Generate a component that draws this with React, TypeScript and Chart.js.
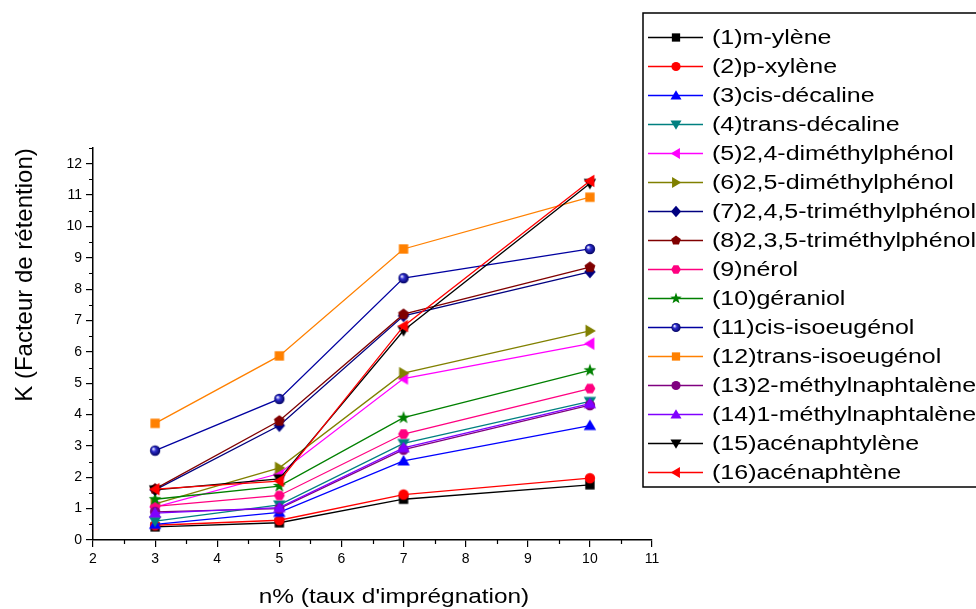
import React, { useEffect, useRef } from 'react';
import { Chart, registerables } from 'chart.js';

Chart.register(...registerables);

// ---------- DATA ----------
const impregnation = [3, 5, 7, 10];

const seriesNames = [
  '(1)m-ylène',
  '(2)p-xylène',
  '(3)cis-décaline',
  '(4)trans-décaline',
  '(5)2,4-diméthylphénol',
  '(6)2,5-diméthylphénol',
  '(7)2,4,5-triméthylphénol',
  '(8)2,3,5-triméthylphénol',
  '(9)nérol',
  '(10)géraniol',
  '(11)cis-isoeugénol',
  '(12)trans-isoeugénol',
  '(13)2-méthylnaphtalène',
  '(14)1-méthylnaphtalène',
  '(15)acénaphtylène',
  '(16)acénaphtène',
];

const mYlene = [0.42, 0.55, 1.3, 1.76];
const pXylene = [0.47, 0.63, 1.45, 1.97];
const cisDecaline = [0.5, 0.88, 2.52, 3.65];
const transDecaline = [0.6, 1.12, 3.08, 4.42];
const dmp24 = [1.05, 2.12, 5.15, 6.26];
const dmp25 = [1.15, 2.3, 5.32, 6.67];
const tmp245 = [1.6, 3.65, 7.15, 8.55];
const tmp235 = [1.63, 3.8, 7.2, 8.7];
const nerol = [1.07, 1.42, 3.38, 4.83];
const geraniol = [1.3, 1.72, 3.9, 5.41];
const cisIsoeugenol = [2.85, 4.5, 8.35, 9.28];
const transIsoeugenol = [3.72, 5.87, 9.28, 10.93];
const methylnaph2 = [0.9, 1.0, 2.88, 4.3];
const methylnaph1 = [0.86, 1.03, 2.94, 4.35];
const acenaphtylene = [1.6, 1.95, 6.68, 11.37];
const acenaphtene = [1.62, 1.88, 6.82, 11.45];

const seriesValues = [
  mYlene, pXylene, cisDecaline, transDecaline, dmp24, dmp25, tmp245, tmp235,
  nerol, geraniol, cisIsoeugenol, transIsoeugenol, methylnaph2, methylnaph1,
  acenaphtylene, acenaphtene,
];

const seriesColors = [
  '#000000', '#FF0000', '#0000FF', '#008080', '#FF00FF', '#808000', '#000080', '#800000',
  '#FF0080', '#008000', '#0000A0', '#FF8000', '#800080', '#8000FF', '#000000', '#FF0000',
];

const seriesMarkers = [
  'square', 'circle', 'up', 'down', 'left', 'right', 'diamond', 'pentagon',
  'hexagon', 'star', 'ball', 'square', 'circle', 'up', 'down', 'left',
];

const xTickValues = [2, 3, 4, 5, 6, 7, 8, 9, 10, 11];
const yTickValues = [0, 1, 2, 3, 4, 5, 6, 7, 8, 9, 10, 11, 12];

const xTitle = "n% (taux d'imprégnation)";
const yTitle = 'K (Facteur de rétention)';

// ---------- STYLE ----------
const FONT = '"Liberation Sans", Arial, sans-serif';
const MS = 5.2; // marker half-size

function drawMarker(ctx: CanvasRenderingContext2D, shape: string, x: number, y: number, s: number, color: string) {
  ctx.save();
  ctx.fillStyle = color;
  ctx.beginPath();
  const poly = (pts: number[][]) => {
    ctx.moveTo(x + pts[0][0], y + pts[0][1]);
    for (let i = 1; i < pts.length; i++) ctx.lineTo(x + pts[i][0], y + pts[i][1]);
    ctx.closePath();
  };
  const reg = (n: number, r: number, rot: number) => {
    const pts: number[][] = [];
    for (let i = 0; i < n; i++) {
      const a = rot + (i * 2 * Math.PI) / n;
      pts.push([r * Math.cos(a), r * Math.sin(a)]);
    }
    poly(pts);
  };
  switch (shape) {
    case 'square':
      ctx.rect(x - s * 0.9, y - s * 0.9, s * 1.8, s * 1.8);
      break;
    case 'circle':
      ctx.arc(x, y, s, 0, Math.PI * 2);
      break;
    case 'up':
      poly([[0, -s * 1.15], [s * 1.2, s * 0.85], [-s * 1.2, s * 0.85]]);
      break;
    case 'down':
      poly([[0, s * 1.15], [s * 1.2, -s * 0.85], [-s * 1.2, -s * 0.85]]);
      break;
    case 'left':
      poly([[-s * 1.15, 0], [s * 0.85, -s * 1.2], [s * 0.85, s * 1.2]]);
      break;
    case 'right':
      poly([[s * 1.15, 0], [-s * 0.85, -s * 1.2], [-s * 0.85, s * 1.2]]);
      break;
    case 'diamond':
      poly([[0, -s * 1.25], [s * 1.1, 0], [0, s * 1.25], [-s * 1.1, 0]]);
      break;
    case 'pentagon':
      reg(5, s * 1.1, -Math.PI / 2);
      break;
    case 'hexagon':
      reg(6, s * 1.05, 0);
      break;
    case 'star': {
      const pts: number[][] = [];
      for (let i = 0; i < 10; i++) {
        const r = i % 2 === 0 ? s * 1.3 : s * 0.52;
        const a = -Math.PI / 2 + (i * Math.PI) / 5;
        pts.push([r * Math.cos(a), r * Math.sin(a)]);
      }
      poly(pts);
      break;
    }
    case 'ball': {
      const g = ctx.createRadialGradient(x - s * 0.35, y - s * 0.35, s * 0.1, x, y, s);
      g.addColorStop(0, '#E0E0FF');
      g.addColorStop(0.35, '#3030D0');
      g.addColorStop(1, '#000060');
      ctx.fillStyle = g;
      ctx.arc(x, y, s, 0, Math.PI * 2);
      break;
    }
  }
  ctx.fill();
  ctx.restore();
}

function makeMarkerCanvas(shape: string, color: string, s: number) {
  const size = Math.ceil(s * 3) + 2;
  const c = document.createElement('canvas');
  c.width = size;
  c.height = size;
  const cx = c.getContext('2d')!;
  drawMarker(cx, shape, size / 2, size / 2, s, color);
  return c;
}

function drawStretchedText(ctx: CanvasRenderingContext2D, text: string, x: number, y: number, sx: number) {
  ctx.save();
  ctx.translate(x, y);
  ctx.scale(sx, 1);
  ctx.fillText(text, 0, 0);
  ctx.restore();
}

const decorPlugin = {
  id: 'decor',
  afterDraw(chart: any) {
    const ctx: CanvasRenderingContext2D = chart.ctx;
    const xs = chart.scales.x;
    const ys = chart.scales.y;
    ctx.save();
    // minor ticks
    ctx.strokeStyle = '#000';
    ctx.lineWidth = 1.2;
    ctx.beginPath();
    for (let i = 0; i < xTickValues.length - 1; i++) {
      const px = Math.round(xs.getPixelForValue((xTickValues[i] + xTickValues[i + 1]) / 2)) + 0.5;
      ctx.moveTo(px, xs.top);
      ctx.lineTo(px, xs.top + 4);
    }
    for (let i = 0; i < yTickValues.length; i++) {
      const v = yTickValues[i] + 0.5;
      const py = Math.round(ys.getPixelForValue(v)) + 0.5;
      ctx.moveTo(ys.right - 4, py);
      ctx.lineTo(ys.right, py);
    }
    ctx.stroke();

    // axis titles
    ctx.fillStyle = '#000';
    ctx.font = `20px ${FONT}`;
    ctx.textAlign = 'center';
    ctx.textBaseline = 'middle';
    drawStretchedText(ctx, xTitle, 394, 597, 1.22);
    ctx.save();
    ctx.translate(25, 275);
    ctx.rotate(-Math.PI / 2);
    ctx.scale(1.2, 1.2);
    ctx.fillText(yTitle, 0, 0);
    ctx.restore();

    // legend
    const bx = 643, by = 13, bh = 474;
    ctx.fillStyle = '#fff';
    ctx.fillRect(bx, by, 976 - bx + 5, bh);
    ctx.strokeStyle = '#000';
    ctx.lineWidth = 1.5;
    ctx.strokeRect(bx, by, 976 - bx + 10, bh);
    ctx.font = `20px ${FONT}`;
    ctx.textAlign = 'left';
    ctx.textBaseline = 'middle';
    for (let i = 0; i < seriesNames.length; i++) {
      const y = 37 + i * 29;
      ctx.strokeStyle = seriesColors[i];
      ctx.lineWidth = 1.3;
      ctx.beginPath();
      ctx.moveTo(648, y + 0.5);
      ctx.lineTo(703, y + 0.5);
      ctx.stroke();
      drawMarker(ctx, seriesMarkers[i], 676, y + 0.5, 4.6, seriesColors[i]);
      ctx.fillStyle = '#000';
      drawStretchedText(ctx, seriesNames[i], 712, y + 1, 1.25);
    }
    ctx.restore();
  },
};

export default function App() {
  const ref = useRef<HTMLCanvasElement | null>(null);
  useEffect(() => {
    if (!ref.current) return;
    const datasets = seriesNames.map((name, i) => ({
      label: name,
      data: impregnation.map((x, j) => ({ x, y: seriesValues[i][j] })),
      borderColor: seriesColors[i],
      backgroundColor: seriesColors[i],
      borderWidth: 1.3,
      pointStyle: makeMarkerCanvas(seriesMarkers[i], seriesColors[i], MS) as any,
      pointRadius: 6,
      tension: 0,
    })).reverse();
    const chart = new Chart(ref.current, {
      type: 'line',
      data: { datasets },
      options: {
        animation: false,
        responsive: false,
        devicePixelRatio: 1,
        layout: { padding: { left: 0, top: 148, right: 324, bottom: 0 } },
        plugins: { legend: { display: false }, tooltip: { enabled: false } },
        scales: {
          x: {
            type: 'linear',
            min: 2,
            max: 11,
            afterFit: (s: any) => { s.height = 69; },
            afterBuildTicks: (s: any) => { s.ticks = xTickValues.map((v) => ({ value: v })); },
            grid: { drawOnChartArea: false, drawTicks: true, tickLength: 7, color: '#000', lineWidth: 1.2 },
            border: { display: true, color: '#000', width: 1.5 },
            ticks: { color: '#000', font: { family: FONT, size: 14 }, padding: 4, maxRotation: 0, autoSkip: false },
          },
          y: {
            type: 'linear',
            min: 0,
            max: 12.5,
            afterFit: (s: any) => { s.width = 93; },
            afterBuildTicks: (s: any) => { s.ticks = yTickValues.map((v) => ({ value: v })); },
            grid: { drawOnChartArea: false, drawTicks: true, tickLength: 7, color: '#000', lineWidth: 1.2 },
            border: { display: true, color: '#000', width: 1.5 },
            ticks: { color: '#000', font: { family: FONT, size: 14 }, padding: 4, autoSkip: false },
          },
        },
      },
      plugins: [decorPlugin],
    });
    return () => chart.destroy();
  }, []);
  return (
    <div style={{ position: 'fixed', left: 0, top: 0, width: 976, height: 609, background: '#fff' }}>
      <canvas ref={ref} width={976} height={609} style={{ display: 'block' }} />
    </div>
  );
}
